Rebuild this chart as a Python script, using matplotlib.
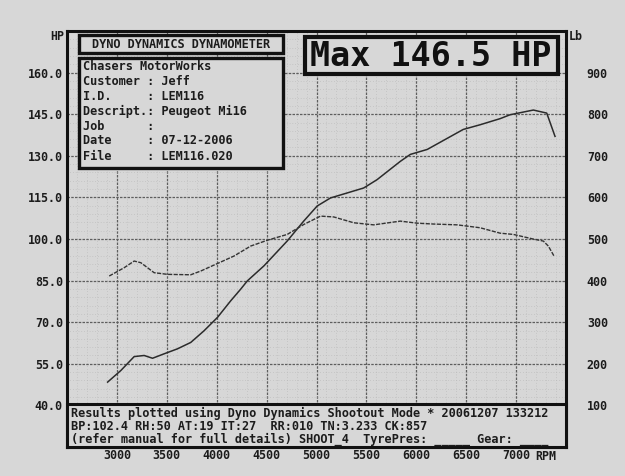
import matplotlib
matplotlib.use("Agg")
import matplotlib.pyplot as plt
from matplotlib.patches import Rectangle
from matplotlib.ticker import FixedLocator

# ---------------- data ----------------
power_rpm = [2907, 3040, 3173, 3273, 3357, 3473, 3607, 3740, 3873, 4007, 4140, 4240,
             4307, 4473, 4707, 4873, 5007, 5140, 5307, 5473, 5607, 5840, 5940, 6110,
             6310, 6470, 6640, 6840, 6940, 7173, 7307, 7390]
power_hp = [48.4, 52.6, 57.6, 58.0, 57.0, 58.6, 60.4, 62.7, 66.9, 71.7, 77.7, 81.9,
            84.9, 90.3, 99.3, 106.5, 111.9, 114.8, 116.6, 118.4, 121.4, 128.0, 130.5, 132.3,
            136.3, 139.5, 141.2, 143.4, 144.8, 146.5, 145.4, 137.0]

te_rpm = [2923, 3073, 3173, 3240, 3373, 3507, 3740, 3840, 4007, 4173, 4340, 4507,
          4707, 4873, 5040, 5173, 5373, 5573, 5840, 6010, 6170, 6410, 6640, 6840,
          6973, 7170, 7273, 7323, 7380]
te_lb = [411, 431, 447, 443, 419, 415, 414, 423, 441, 459, 483, 497,
         511, 535, 555, 553, 539, 534, 543, 538, 536, 534, 527, 514,
         511, 500, 495, 483, 459]

hp_ticks = [40, 55, 70, 85, 100, 115, 130, 145, 160]
lb_ticks = [100, 200, 300, 400, 500, 600, 700, 800, 900]
rpm_ticks = [3000, 3500, 4000, 4500, 5000, 5500, 6000, 6500, 7000]

max_label = "Max 146.5 HP"
title_label = "DYNO DYNAMICS DYNAMOMETER"
info_lines = ["Chasers MotorWorks",
              "Customer : Jeff",
              "I.D.     : LEM116",
              "Descript.: Peugeot Mi16",
              "Job      :",
              "Date     : 07-12-2006",
              "File     : LEM116.020"]
footer_lines = ["Results plotted using Dyno Dynamics Shootout Mode * 20061207 133212",
                "BP:102.4 RH:50 AT:19 IT:27  RR:010 TN:3.233 CK:857",
                "(refer manual for full details) SHOOT_4  TyrePres: _____ Gear: ____"]

# ---------------- figure ----------------
W, H = 625, 476
BG = "#d7d7d7"
INK = "#1c1c1c"
FONT = "DejaVu Sans Mono"

fig = plt.figure(figsize=(W / 100, H / 100), dpi=100, facecolor=BG)


def fx(x):
    return x / W


def fy(y):
    return 1 - y / H


L, R, T, B = 67, 566, 31, 447
ax = fig.add_axes([fx(L), fy(B), (R - L) / W, (B - T) / H])
ax.set_facecolor(BG)
ax.set_xlim(2500, 7500)
ax.set_ylim(25, 175)

ax.xaxis.set_major_locator(FixedLocator(rpm_ticks))
ax.xaxis.set_minor_locator(FixedLocator([r for r in range(2600, 7500, 100) if r % 500 != 0]))
ax.yaxis.set_major_locator(FixedLocator(hp_ticks))
ax.yaxis.set_minor_locator(FixedLocator([40 + 3 * k for k in range(45) if k % 5 != 0 and 40 + 3 * k < 175]))
ax.set_xticklabels([str(r) for r in rpm_ticks])
ax.set_yticklabels([f"{v:.1f}" for v in hp_ticks])

ax.grid(which="major", color="#5e5e5e", lw=0.9, ls=(0, (2, 1)))
ax.grid(which="minor", color="#b4b4b4", lw=0.5, ls=(0, (1, 3)))
ax.tick_params(which="both", length=0)
ax.tick_params(axis="y", pad=3, labelsize=8.4, labelcolor=INK)
ax.tick_params(axis="x", pad=1.5, labelsize=8.4, labelcolor=INK)
for lab in ax.get_xticklabels() + ax.get_yticklabels():
    lab.set_fontfamily(FONT)
    lab.set_fontweight("bold")
for s in ax.spines.values():
    s.set_linewidth(2.2)
    s.set_color("#111111")

ax.plot(power_rpm, power_hp, color="#2b2b2b", lw=1.1, zorder=3)

ax2 = ax.twinx()
ax2.set_ylim(0, 1000)
ax2.yaxis.set_major_locator(FixedLocator(lb_ticks))
ax2.set_yticklabels([str(v) for v in lb_ticks])
ax2.tick_params(which="both", length=0, pad=15, labelsize=8.4, labelcolor=INK)
for lab in ax2.get_yticklabels():
    lab.set_fontfamily(FONT)
    lab.set_fontweight("bold")
for s in ax2.spines.values():
    s.set_visible(False)
ax2.plot(te_rpm, te_lb, color="#343434", lw=1.0, ls=(0, (3, 1)), zorder=3)

# axis unit labels
fig.text(fx(64), fy(37), "HP", ha="right", va="center", fontsize=8.4,
         family=FONT, weight="bold", color=INK)
fig.text(fx(569), fy(37), "Lb", ha="left", va="center", fontsize=8.4,
         family=FONT, weight="bold", color=INK)
fig.text(fx(546), fy(456), "RPM", ha="center", va="center", fontsize=8.4,
         family=FONT, weight="bold", color=INK)


def box(x0, y0, x1, y1, lw):
    fig.patches.append(Rectangle((fx(x0), fy(y1)), (x1 - x0) / W, (y1 - y0) / H,
                                 transform=fig.transFigure, facecolor=BG,
                                 edgecolor="#111111", lw=lw, zorder=2))


# title + info boxes
box(79, 35, 283, 53, 2.4)
box(79, 58, 283, 168, 2.4)
fig.text(fx(181), fy(45), title_label, ha="center", va="center", fontsize=8.6,
         family=FONT, weight="bold", color=INK, zorder=4)
for i, line in enumerate(info_lines):
    fig.text(fx(83), fy(66 + 15 * i), line, ha="left", va="center", fontsize=8.6,
             family=FONT, weight="bold", color=INK, zorder=4)

# max box
box(305, 37, 558, 74, 3.0)
fig.text(fx(431), fy(56), max_label, ha="center", va="center", fontsize=24,
         family=FONT, weight="bold", color="#111111", zorder=4)

# footer box
box(L, 404, R, B, 2.2)
for i, line in enumerate(footer_lines):
    fig.text(fx(71), fy(413 + 13 * i), line, ha="left", va="center", fontsize=8.6,
             family=FONT, weight="bold", color=INK, zorder=4)

fig.savefig("out.png", dpi=100, facecolor=BG)
